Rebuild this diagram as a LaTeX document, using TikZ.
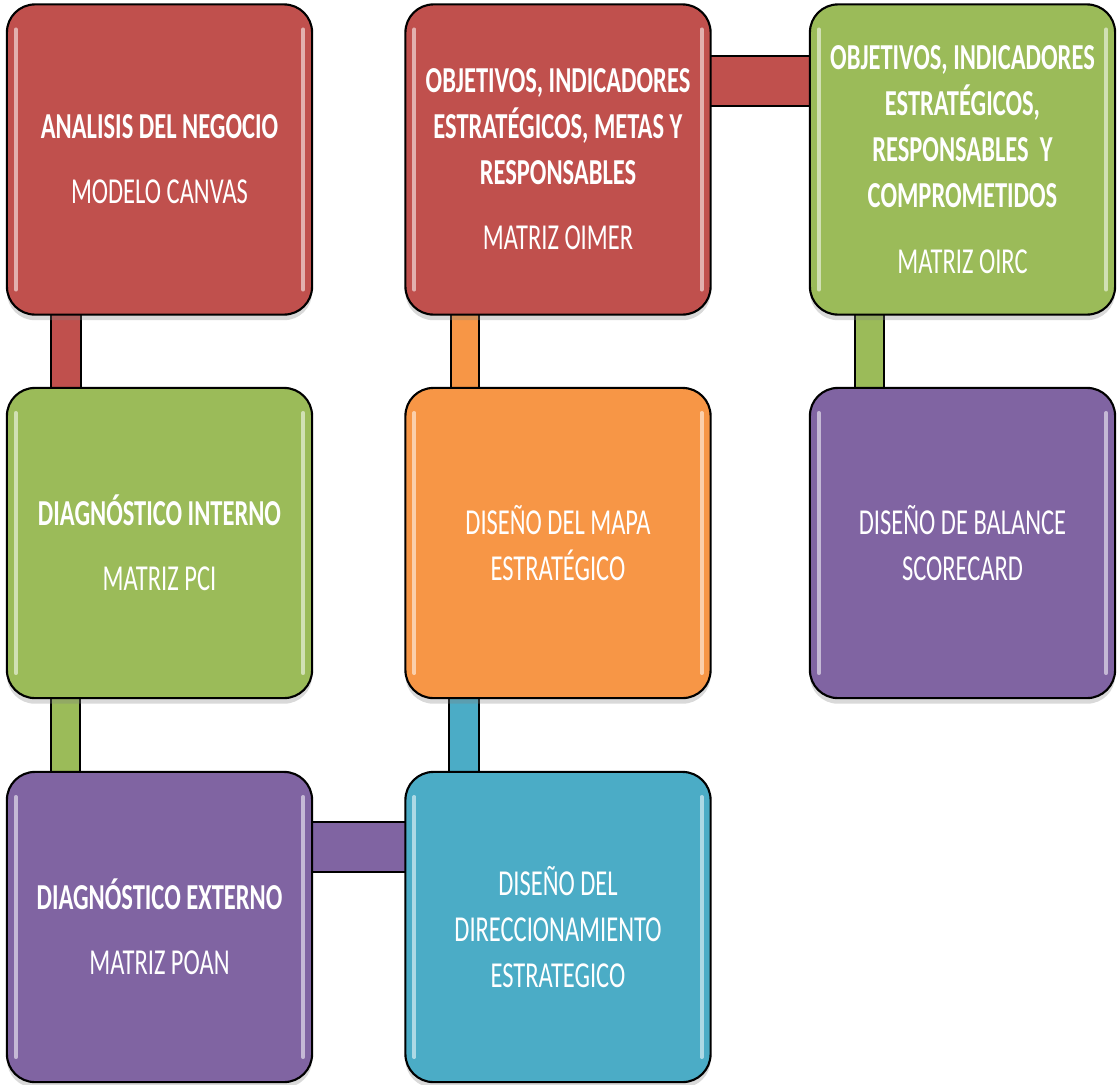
\documentclass[tikz,border=0pt]{standalone}
\usepackage{fontspec}
\setmainfont{Carlito}[FakeStretch=0.67]
\usetikzlibrary{calc,shadows}
\pgfdeclarelayer{background}
\pgfsetlayers{background,main}

\definecolor{boxred}{HTML}{C0504D}
\definecolor{boxgreen}{HTML}{9BBB59}
\definecolor{boxpurple}{HTML}{8064A2}
\definecolor{boxorange}{HTML}{F79646}
\definecolor{boxblue}{HTML}{4BACC6}

\tikzset{
  stage/.style={
    draw=black, line width=0.6pt, rounded corners=0.28cm,
    minimum width=3.05cm, minimum height=3.1cm, inner sep=0pt,
    text=white, align=center,
    font=\fontsize{10.4}{13.1}\selectfont,
    drop shadow={shadow xshift=0pt, shadow yshift=-1.6pt, opacity=0.3},
    path picture={
      \draw[white, opacity=0.55, line width=1.1pt, line cap=round]
        ($(path picture bounding box.north west)+(9,25)$) --
        ($(path picture bounding box.south west)+(9,-25)$)
        ($(path picture bounding box.north east)+(-9,25)$) --
        ($(path picture bounding box.south east)+(-9,-25)$);
    }
  },
  link/.style={draw=black, line width=0.6pt}
}

\begin{document}
\begin{tikzpicture}[x=0.01cm, y=-0.01cm]
\useasboundingbox (0,0) rectangle (1118,1084);

% process stages
\node[stage, fill=boxred] (canvas) at (159.5,159.5)
  {\textbf{ANALISIS DEL NEGOCIO}\\[5.4pt]MODELO CANVAS};
\node[stage, fill=boxgreen] (pci) at (159.5,543)
  {\textbf{DIAGNÓSTICO INTERNO}\\[5.4pt]MATRIZ PCI};
\node[stage, fill=boxpurple] (poan) at (159.5,927)
  {\textbf{DIAGNÓSTICO EXTERNO}\\[5.4pt]MATRIZ POAN};
\node[stage, fill=boxblue] (dir) at (558,927)
  {DISEÑO DEL\\DIRECCIONAMIENTO\\ESTRATEGICO};
\node[stage, fill=boxorange] (mapa) at (558,543)
  {DISEÑO DEL MAPA\\ESTRATÉGICO};
\node[stage, fill=boxred] (oimer) at (558,159.5)
  {\textbf{OBJETIVOS, INDICADORES}\\\textbf{ESTRATÉGICOS, METAS Y}\\\textbf{RESPONSABLES}\\[5.4pt]MATRIZ OIMER};
\node[stage, fill=boxgreen] (oirc) at (962.5,159.5)
  {\textbf{OBJETIVOS, INDICADORES}\\\textbf{ESTRATÉGICOS,}\\\textbf{RESPONSABLES\ \ Y}\\\textbf{COMPROMETIDOS}\\[5.4pt]MATRIZ OIRC};
\node[stage, fill=boxpurple] (bsc) at (962.5,543)
  {DISEÑO DE BALANCE\\SCORECARD};

% connecting bars, behind the stages
\begin{pgfonlayer}{background}
\filldraw[link, fill=boxred]    ($(canvas.south west)+(45,-5)$) rectangle ($(pci.north west)+(75,5)$);
\filldraw[link, fill=boxgreen]  ($(pci.south west)+(45,-5)$)    rectangle ($(poan.north west)+(74,5)$);
\filldraw[link, fill=boxpurple] ($(poan.north east)+(-5,51)$)   rectangle ($(dir.north west)+(5,101)$);
\filldraw[link, fill=boxblue]   ($(mapa.south west)+(45,-5)$)   rectangle ($(dir.north west)+(75,5)$);
\filldraw[link, fill=boxorange] ($(oimer.south west)+(47,-5)$)  rectangle ($(mapa.north west)+(75,5)$);
\filldraw[link, fill=boxred]    ($(oimer.north east)+(-5,53)$)  rectangle ($(oirc.north west)+(5,103)$);
\filldraw[link, fill=boxgreen]  ($(oirc.south west)+(46,-5)$)   rectangle ($(bsc.north west)+(75,5)$);
\end{pgfonlayer}
\end{tikzpicture}
\end{document}
